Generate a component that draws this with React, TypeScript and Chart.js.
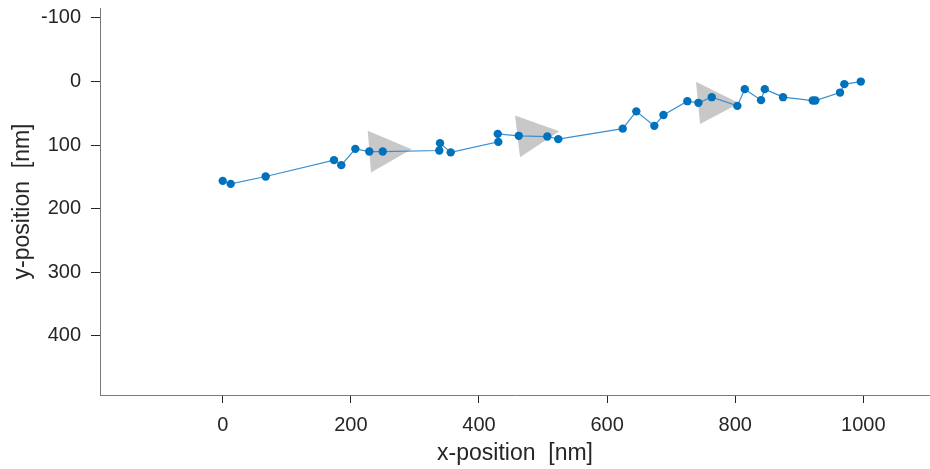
import React, { useEffect, useRef } from "react";
import { Chart, registerables } from "chart.js";

Chart.register(...registerables);

// Track positions (nm)
const trackX = [0, 12.5, 67.1, 173.7, 185.1, 207.0, 228.8, 249.8, 338.1, 339.2, 355.9, 430.2, 429.3, 462.1, 506.7, 523.8, 624.4, 645.6, 673.7, 688.0, 725.3, 742.5, 763.4, 803.3, 814.9, 840.3, 846.1, 874.6, 921.0, 925.0, 963.6, 970.3, 996.0];
const trackY = [156.3, 161.0, 149.5, 123.7, 131.6, 106.0, 110.2, 110.2, 108.6, 97.0, 111.5, 95.0, 82.4, 85.5, 86.6, 90.7, 74.2, 47.0, 69.8, 52.8, 31.0, 33.6, 24.7, 38.4, 12.1, 29.4, 12.1, 24.7, 30.0, 30.0, 17.5, 4.2, 0.2];

// Direction arrows (triangle vertices, nm)
const arrow1X = [226.4, 231.5, 295.0];
const arrow1Y = [77.7, 143.2, 106.4];
const arrow2X = [456.3, 464.1, 525.4];
const arrow2Y = [53.6, 119.0, 78.1];
const arrow3X = [738.8, 745.1, 806.4];
const arrow3Y = [0.6, 66.7, 34.1];

const xTicks = [0, 200, 400, 600, 800, 1000];
const yTicks = [-100, 0, 100, 200, 300, 400];

const zip = (xs: number[], ys: number[]) => xs.map((x, i) => ({ x, y: ys[i] }));

export default function App() {
  const ref = useRef<HTMLCanvasElement | null>(null);
  useEffect(() => {
    if (!ref.current) return;
    const tickFont = { family: "'Liberation Sans', Arial, sans-serif", size: 20 };
    const titleFont = { family: "'Liberation Sans', Arial, sans-serif", size: 23 };
    const arrowDs = (xs: number[], ys: number[]) => ({
      data: zip(xs, ys),
      borderWidth: 0,
      borderColor: "rgba(0,0,0,0)",
      backgroundColor: "#c8c8c8",
      pointRadius: 0,
      fill: "shape",
      order: 2,
    });
    const chart = new Chart(ref.current, {
      type: "line",
      data: {
        datasets: [
          arrowDs(arrow1X, arrow1Y),
          arrowDs(arrow2X, arrow2Y),
          arrowDs(arrow3X, arrow3Y),
          {
            data: zip(trackX, trackY),
            borderColor: "#3a8fd0",
            borderWidth: 1.2,
            backgroundColor: "#0072BD",
            pointBackgroundColor: "#0072BD",
            pointBorderColor: "#0072BD",
            pointRadius: 4.2,
            pointBorderWidth: 0,
            fill: false,
            tension: 0,
            order: 0,
          } as any,
        ],
      },
      options: {
        animation: false,
        responsive: false,
        maintainAspectRatio: false,
        layout: { autoPadding: false, padding: { top: 8, left: 0, right: 0, bottom: 0 } },
        plugins: { legend: { display: false }, tooltip: { enabled: false } },
        scales: {
          x: {
            type: "linear",
            min: -191.5,
            max: 1104,
            afterBuildTicks: (s: any) => {
              s.ticks = xTicks.map((v) => ({ value: v }));
            },
            afterFit: (s: any) => {
              s.height = 74;
              s.paddingLeft = 0;
              s.paddingRight = 0;
            },
            ticks: { font: tickFont, color: "#262626", padding: 10, maxRotation: 0, autoSkip: false, callback: (v: any) => String(v) },
            grid: { drawOnChartArea: false, drawTicks: true, tickLength: 8, color: "#262626" },
            border: { display: true, color: "#7a7a7a", width: 1 },
            title: { display: true, text: "x-position  [nm]", font: titleFont, color: "#262626", padding: { top: 0, bottom: 2 } },
          },
          y: {
            type: "linear",
            reverse: true,
            min: -115.5,
            max: 493,
            afterBuildTicks: (s: any) => {
              s.ticks = yTicks.map((v) => ({ value: v }));
            },
            afterFit: (s: any) => {
              s.width = 100;
              s.paddingTop = 0;
              s.paddingBottom = 0;
            },
            ticks: { font: tickFont, color: "#262626", padding: 10, autoSkip: false, callback: (v: any) => String(v) },
            grid: { drawOnChartArea: false, drawTicks: true, tickLength: 9, color: "#262626" },
            border: { display: true, color: "#7a7a7a", width: 1 },
            title: { display: true, text: "y-position  [nm]", font: titleFont, color: "#262626", padding: { top: 9, bottom: 0 } },
          },
        },
      } as any,
    });
    return () => chart.destroy();
  }, []);
  return (
    <div style={{ position: "absolute", left: 0, top: 0, width: 930, height: 469, background: "#fff" }}>
      <canvas ref={ref} width={930} height={469} style={{ display: "block" }} />
    </div>
  );
}
